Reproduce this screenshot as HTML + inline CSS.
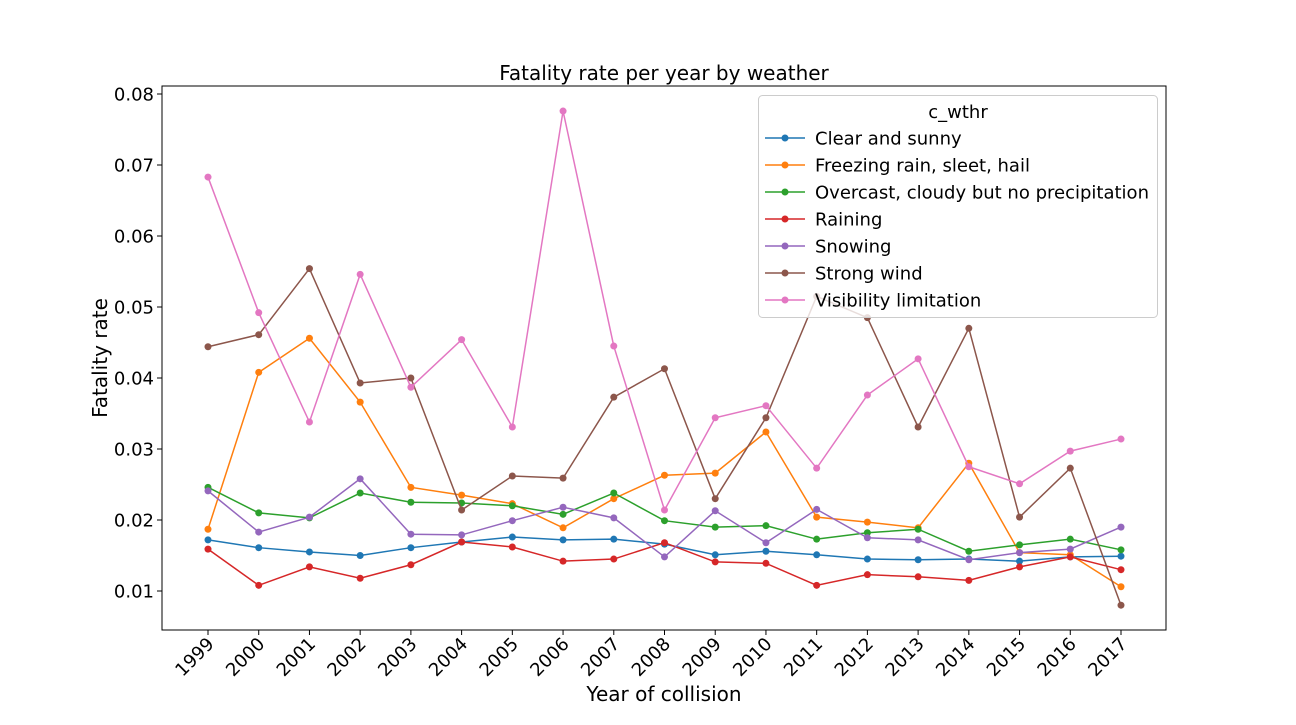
<!DOCTYPE html>
<html><head><meta charset="utf-8"><style>
body{margin:0;background:#fff;}
svg{font-family:"DejaVu Sans","Liberation Sans",sans-serif;}
</style></head><body>
<svg id="chart" width="1296" height="720"></svg>
<script>
const years=[1999,2000,2001,2002,2003,2004,2005,2006,2007,2008,2009,2010,2011,2012,2013,2014,2015,2016,2017];
const seriesNames=["Clear and sunny","Freezing rain, sleet, hail","Overcast, cloudy but no precipitation","Raining","Snowing","Strong wind","Visibility limitation"];
const clearSunny=[0.0172,0.0161,0.0155,0.0150,0.0161,0.0169,0.0176,0.0172,0.0173,0.0166,0.0151,0.0156,0.0151,0.0145,0.0144,0.0145,0.0142,0.0148,0.0149];
const freezing=[0.0187,0.0408,0.0456,0.0366,0.0246,0.0235,0.0223,0.0189,0.0230,0.0263,0.0266,0.0324,0.0204,0.0197,0.0189,0.0280,0.0154,0.0151,0.0106];
const overcast=[0.0246,0.0210,0.0203,0.0238,0.0225,0.0224,0.0220,0.0208,0.0238,0.0199,0.0190,0.0192,0.0173,0.0182,0.0187,0.0156,0.0165,0.0173,0.0158];
const raining=[0.0159,0.0108,0.0134,0.0118,0.0137,0.0169,0.0162,0.0142,0.0145,0.0168,0.0141,0.0139,0.0108,0.0123,0.0120,0.0115,0.0134,0.0148,0.0130];
const snowing=[0.0241,0.0183,0.0204,0.0258,0.0180,0.0179,0.0199,0.0218,0.0203,0.0148,0.0213,0.0168,0.0215,0.0175,0.0172,0.0144,0.0154,0.0159,0.0190];
const strongWind=[0.0444,0.0461,0.0554,0.0393,0.0400,0.0214,0.0262,0.0259,0.0373,0.0413,0.0230,0.0344,0.0515,0.0485,0.0331,0.0470,0.0204,0.0273,0.0080];
const visibility=[0.0683,0.0492,0.0338,0.0546,0.0387,0.0454,0.0331,0.0776,0.0445,0.0214,0.0344,0.0361,0.0273,0.0376,0.0427,0.0275,0.0251,0.0297,0.0314];
const yTicks=[0.01,0.02,0.03,0.04,0.05,0.06,0.07,0.08];
const yTickLabels=["0.01","0.02","0.03","0.04","0.05","0.06","0.07","0.08"];
const colors=["#1f77b4","#ff7f0e","#2ca02c","#d62728","#9467bd","#8c564b","#e377c2"];
const allSeries=[clearSunny,freezing,overcast,raining,snowing,strongWind,visibility];

const NS="http://www.w3.org/2000/svg";
const svg=document.getElementById('chart');
const L=162,R=1166,T=86,B=630;
const x=yr=>208+(yr-1999)*(1121-208)/18;
const y=v=>591-(v-0.01)*7100;
function mk(tag,attrs,parent){const e=document.createElementNS(NS,tag);for(const k in attrs)e.setAttribute(k,attrs[k]);(parent||svg).appendChild(e);return e;}

let t=mk('text',{x:664,y:80,'text-anchor':'middle','font-size':20});t.textContent="Fatality rate per year by weather";



yTicks.forEach((v,i)=>{
  const ln=mk('line',{x1:L-5,x2:L,y1:y(v),y2:y(v),stroke:'#000'});
  
  
  const tx=mk('text',{x:L-8,y:y(v)+6.5,'text-anchor':'end','font-size':18});tx.textContent=yTickLabels[i];
  
  
});
years.forEach(yr=>{
  const ln=mk('line',{x1:x(yr),x2:x(yr),y1:B,y2:B+5,stroke:'#000'});
  
  
  const tx=mk('text',{x:x(yr)+7,y:B+15,'text-anchor':'end','font-size':18,transform:`rotate(-45 ${x(yr)+7} ${B+15})`});tx.textContent=yr;
  
  
});
t=mk('text',{x:664,y:701,'text-anchor':'middle','font-size':20});t.textContent="Year of collision";


t=mk('text',{x:107,y:358,'text-anchor':'middle','font-size':20,transform:'rotate(-90 107 358)'});t.textContent="Fatality rate";



allSeries.forEach((s,si)=>{
  const g=mk('g',{});
  
  
  mk('polyline',{points:s.map((v,i)=>x(years[i])+','+y(v)).join(' '),fill:'none',stroke:colors[si],'stroke-width':1.5},g);
  s.forEach((v,i)=>{const c=mk('circle',{cx:x(years[i]),cy:y(v),r:3.5,fill:colors[si]},g);
    
    });
});
const frame=mk('rect',{x:L,y:T,width:R-L,height:B-T,fill:'none',stroke:'#000','stroke-width':1});



const lg=mk('g',{});


mk('rect',{x:758.5,y:95.5,width:399,height:222,rx:4,fill:'#fff','fill-opacity':0.8,stroke:'#ccc'},lg);
t=mk('text',{x:958,y:118,'text-anchor':'middle','font-size':18},lg);t.textContent="c_wthr";
seriesNames.forEach((n,i)=>{
  const yy=138+i*27;
  const e=mk('g',{},lg);
  
  
  mk('line',{x1:765,x2:805,y1:yy,y2:yy,stroke:colors[i],'stroke-width':1.5},e);
  mk('circle',{cx:785,cy:yy,r:3.5,fill:colors[i]},e);
  const tx=mk('text',{x:815,y:yy+6.5,'font-size':18},e);tx.textContent=n;
});
</script>
</body></html>
